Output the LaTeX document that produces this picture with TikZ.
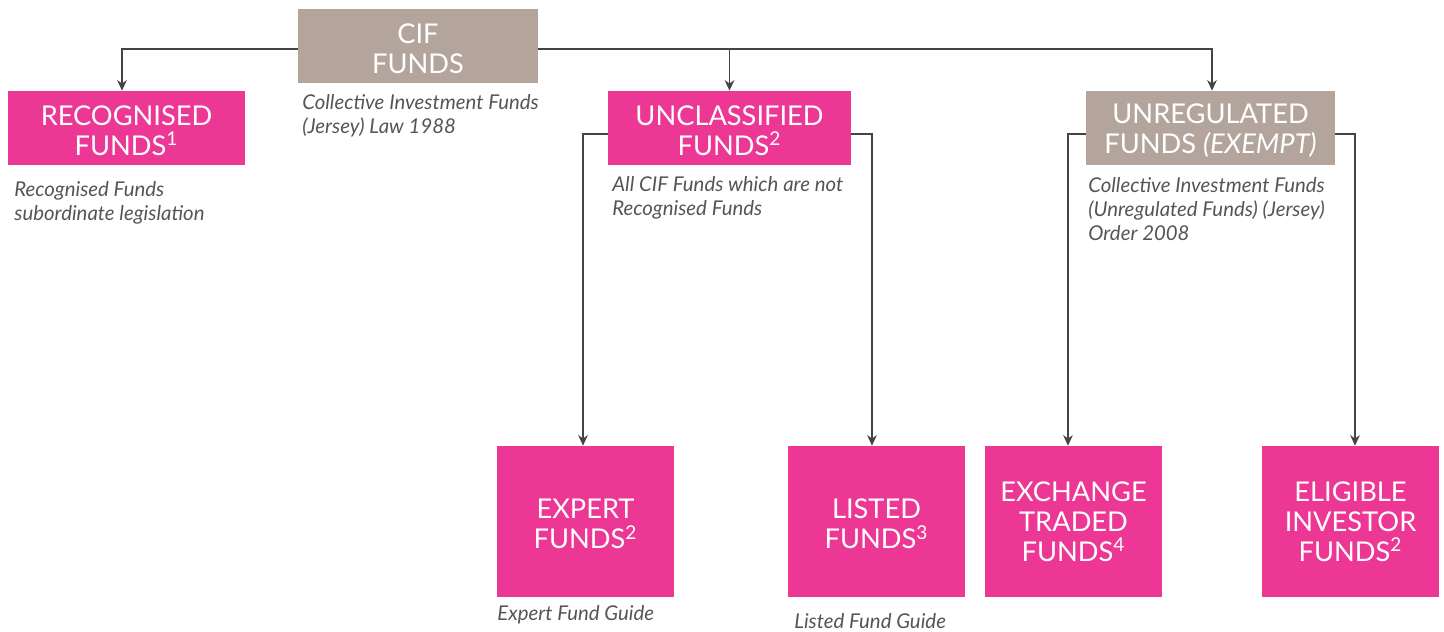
\documentclass[tikz,border=0pt]{standalone}
\usepackage{fontspec}
\setmainfont{Lato}
\usepackage{xcolor}
\usetikzlibrary{arrows.meta}
\definecolor{fundpink}{RGB}{236,56,148}
\definecolor{fundtaupe}{RGB}{179,165,156}
\definecolor{linegrey}{RGB}{68,68,68}
\definecolor{notegrey}{RGB}{85,85,85}

\tikzset{
  fund/.style={fill=fundpink, text=white, align=center, inner sep=0pt,
    font=\fontsize{15.5}{17}\selectfont, minimum height=1.48cm},
  fundgrey/.style={fund, fill=fundtaupe},
  fundsq/.style={fund, minimum width=3.54cm, minimum height=3.02cm},
  note/.style={text=notegrey, align=left, anchor=north west, inner sep=0pt,
    font=\fontsize{11.6}{13.7}\selectfont\itshape},
  link/.style={draw=linegrey, line width=0.8pt, -{Stealth[length=6pt,width=5.5pt]}},
}
% extra room above the first line pushes box text down a little
\newcommand{\toppad}{\rule{0pt}{14pt}}

\begin{document}
\begin{tikzpicture}[x=0.02cm, y=-0.02cm]
  \useasboundingbox (0,0) rectangle (1444,632);
  % top level
  \node[fundgrey, minimum width=4.8cm] (cif) at (418,46) {\toppad CIF\\FUNDS};
  \node[note] (cifnote) at (302,94) {Collective Investment Funds\\(Jersey) Law 1988};
  % second row
  \node[fund, minimum width=4.74cm] (rec) at (126.5,128) {\toppad RECOGNISED\\FUNDS\textsuperscript{1}};
  \node[note] (recnote) at (14,181) {Recognised Funds\\subordinate legislation};
  \node[fund, minimum width=4.86cm] (uncl) at (729.5,128) {\toppad UNCLASSIFIED\\FUNDS\textsuperscript{2}};
  \node[note] (unclnote) at (612,176) {All CIF Funds which are not\\Recognised Funds};
  \node[fundgrey, minimum width=4.98cm] (unreg) at (1210.5,128) {\toppad UNREGULATED\\FUNDS \textit{(EXEMPT)}};
  \node[note] (unregnote) at (1088,177) {Collective Investment Funds\\(Unregulated Funds) (Jersey)\\Order 2008};
  % bottom row
  \node[fundsq] (expert) at (585.5,521.5) {\toppad EXPERT\\FUNDS\textsuperscript{2}};
  \node[note] (expertnote) at (497,605) {Expert Fund Guide};
  \node[fundsq] (listed) at (876.5,521.5) {\toppad LISTED\\FUNDS\textsuperscript{3}};
  \node[note] (listednote) at (794,613) {Listed Fund Guide};
  \node[fundsq] (exch) at (1073.5,521.5) {EXCHANGE\\TRADED\\FUNDS\textsuperscript{4}};
  \node[fundsq] (elig) at (1350.5,521.5) {ELIGIBLE\\INVESTOR\\FUNDS\textsuperscript{2}};
  % connectors
  \draw[link] ([yshift=-0.06cm]cif.west) -| ([xshift=-0.09cm]rec.north);
  \draw[link] ([yshift=-0.06cm]cif.east) -| (uncl.north);
  \draw[link] ([yshift=-0.06cm]cif.east) -| ([xshift=0.03cm]unreg.north);
  \draw[link] ([yshift=-0.12cm]uncl.west) -| ([xshift=-0.05cm]expert.north);
  \draw[link] ([yshift=-0.12cm]uncl.east) -| ([xshift=-0.09cm]listed.north);
  \draw[link] ([yshift=-0.12cm]unreg.west) -| ([xshift=-0.11cm]exch.north);
  \draw[link] ([yshift=-0.12cm]unreg.east) -| ([xshift=0.09cm]elig.north);
\end{tikzpicture}
\end{document}
